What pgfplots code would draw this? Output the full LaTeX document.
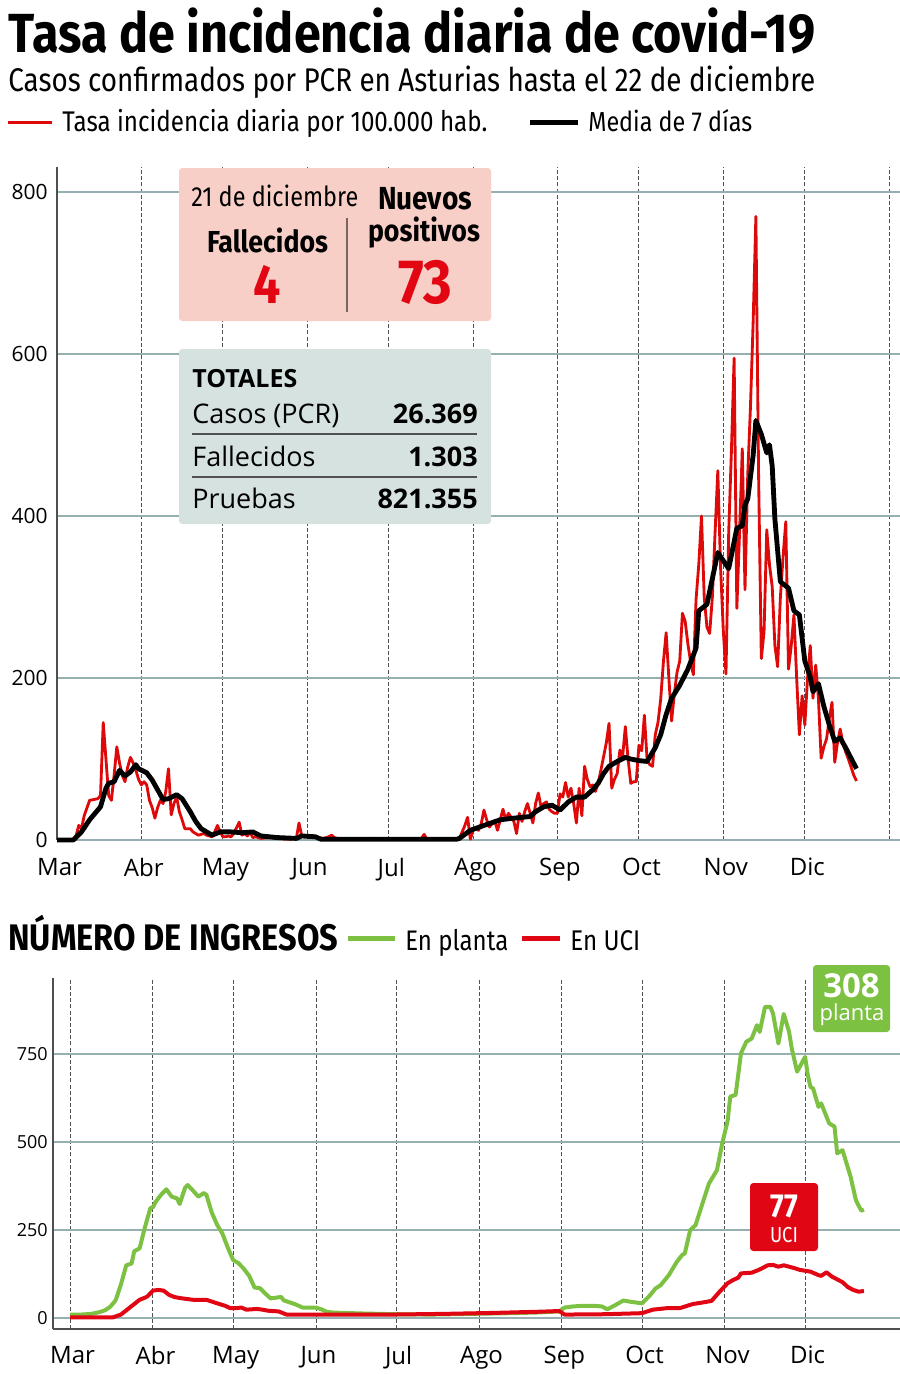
\documentclass[border=0pt]{standalone}
\usepackage{pgfplots}
\pgfplotsset{compat=1.18}
\usepackage{fontspec}
\usepackage{graphicx}
\setmainfont{Open Sans}
\newfontfamily\condR{Fira Sans}[FakeStretch=0.85]
\newfontfamily\condB{Fira Sans}[FakeStretch=0.88]
\definecolor{gridc}{RGB}{150,175,176}
\definecolor{axc}{RGB}{80,80,80}
\definecolor{redl}{RGB}{222,10,10}
\definecolor{pinkbox}{RGB}{247,207,199}
\definecolor{graybox}{RGB}{214,226,224}
\definecolor{greenl}{RGB}{124,193,66}
\definecolor{ucired}{RGB}{224,6,19}
\definecolor{numred}{RGB}{226,6,19}
\newcommand{\fitw}[2]{\resizebox{#1}{!}{#2}}
\pgfplotsset{
  common/.style={
    scale only axis, anchor=south west, clip=false,
    axis lines*=left, separate axis lines,
    major tick length=0pt,
    xmajorgrids, ymajorgrids,
    major x grid style={draw=axc, line width=0.6pt, dash pattern=on 2.4pt off 1.3pt},
    major y grid style={draw=gridc, line width=0.9pt},
    /pgf/number format/assume math mode=true,
    no markers,
  }
}
\begin{document}
\begin{tikzpicture}
\path[use as bounding box] (0,0) rectangle (540pt,-824.4pt);
% ---------------- top chart
\begin{axis}[common,
  at={(34.2pt,-504pt)}, width=505.8pt, height=403.8pt,
  xmin=0, xmax=310, ymin=0, ymax=831,
  x axis line style={draw=gridc, line width=0.9pt, -},
  y axis line style={draw=axc, line width=0.9pt, -},
  xtick={0,31,61,92,122,153,184,214,245,275,306},
  xticklabels={Mar,Abr,May,Jun,Jul,Ago,Sep,Oct,Nov,Dic,{}},
  ytick={0,200,400,600,800},
  xticklabel style={anchor=north, inner sep=0pt, yshift=-10.8pt, xshift=1.5pt, font=\fontsize{14.4}{16}\selectfont},
  yticklabel style={anchor=east, inner sep=0pt, xshift=-5.4pt, font=\fontsize{12.6}{14}\selectfont},
]
\addplot[redl, line width=1.7pt, line join=round] coordinates {
(0,0)(6,0)(7,5)(8,18)(9,14)(10,30)(12,49)(15,51)(16,55)(17,145)(18,100)(19,55)(20,49)
(21,80)(22,115)(23,95)(24,80)(25,72)(26,90)(27,102)(28,95)(29,86)(30,75)(31,68)(32,72)
(33,68)(34,49)(35,40)(36,27)(37,40)(38,49)(39,45)(40,60)(41,88)(42,31)(43,45)(44,53)
(45,35)(46,25)(47,14)(48,14)(49,14)(50,10)(51,8)(52,6)(54,8)(55,6)(56,5)(57,4)(58,10)
(59,18)(60,10)(61,4)(62,4)(63,5)(64,4)(65,8)(66,15)(67,22)(68,6)(69,8)(70,5)(71,10)
(72,3)(73,4)(75,2)(78,3)(81,2)(85,1)(88,2)(89,21)(90,5)(92,4)(94,5)(96,3)(98,2)(100,4)
(101,6)(102,3)(104,1)(110,1)(115,2)(120,1)(125,1)(130,1)(134,2)(135,7)(136,1)(140,1)
(145,1)(147,1)(148,2)(149,10)(150,18)(151,28)(152,1)(153,12)(154,14)(155,12)(156,20)
(157,37)(158,25)(159,16)(160,20)(161,23)(162,12)(163,25)(164,38)(165,25)(166,33)(167,28)
(168,23)(169,8)(170,33)(171,23)(172,35)(173,45)(174,33)(175,21)(176,45)(177,58)(178,41)
(179,45)(180,47)(181,38)(182,35)(183,33)(184,33)(185,57)(186,53)(187,71)(188,53)(189,64)
(190,45)(191,21)(192,64)(193,30)(194,91)(195,75)(196,66)(197,68)(198,60)(199,70)(200,86)
(201,103)(202,120)(203,144)(204,64)(205,75)(206,82)(207,111)(208,103)(209,140)(210,100)
(211,70)(212,72)(213,72)(214,117)(215,110)(216,154)(217,99)(218,93)(219,91)(220,130)
(221,145)(222,174)(223,220)(224,256)(225,200)(226,147)(227,180)(228,207)(229,221)(230,280)
(231,270)(232,242)(233,220)(234,204)(235,297)(236,340)(237,400)(238,300)(239,263)(240,255)
(241,300)(242,380)(243,456)(244,338)(245,260)(246,205)(247,379)(248,480)(249,595)(250,286)
(251,380)(252,483)(253,309)(254,450)(255,534)(256,640)(257,770)(258,450)(259,224)(260,257)
(261,383)(262,340)(263,313)(264,240)(265,214)(266,299)(267,350)(268,393)(269,211)(270,240)
(271,278)(272,200)(273,130)(274,178)(275,142)(276,200)(277,240)(278,175)(279,216)(280,175)
(281,101)(282,115)(283,125)(284,150)(285,170)(286,96)(287,120)(288,137)(289,120)(290,109)
(291,100)(292,90)(293,80)(294,73)
};
\addplot[black, line width=2.9pt, line join=round] coordinates {
(0,0)(6,0)(9,10)(12,25)(16,41)(18,64)(19,70)(21,72)(23,86)(25,79)(27,84)(29,93)(30,88)
(33,83)(35,74)(37,62)(39,50)(41,51)(44,56)(46,51)(49,35)(51,23)(53,14)(57,6)(60,10)
(64,10)(68,9)(72,10)(75,5)(81,3)(88,2)(90,5)(95,4)(97,1)(147,1)(148,2)(152,12)(157,18)
(163,25)(168,27)(174,29)(176,35)(179,41)(182,43)(185,37)(188,47)(191,53)(194,53)(197,62)
(199,70)(201,82)(203,91)(206,97)(209,102)(211,100)(214,98)(217,97)(220,114)(222,130)
(224,155)(226,175)(229,191)(232,211)(235,237)(236,283)(239,291)(243,355)(247,335)(250,385)
(252,388)(253,414)(254,421)(256,475)(257,518)(259,501)(261,478)(262,488)(263,462)(264,396)
(266,319)(269,311)(271,283)(273,278)(275,221)(277,201)(278,183)(280,193)(282,165)(284,142)
(286,122)(288,126)(290,114)(292,101)(294,88)
};
\end{axis}
% ---------------- bottom chart
\begin{axis}[common,
  at={(31.8pt,-797.4pt)}, width=508.2pt, height=210.6pt,
  xmin=-6.4, xmax=310.5, ymin=-31, ymax=966,
  x axis line style={draw=axc, line width=0.9pt, -},
  y axis line style={draw=axc, line width=0.9pt, -},
  xtick={0,31,61,92,122,153,184,214,245,275},
  xticklabels={Mar,Abr,May,Jun,Jul,Ago,Sep,Oct,Nov,Dic},
  ytick={0,250,500,750},
  xticklabel style={anchor=north, inner sep=0pt, yshift=-10.2pt, xshift=1.5pt, font=\fontsize{14.4}{16}\selectfont},
  yticklabel style={anchor=east, inner sep=0pt, xshift=-3pt, font=\fontsize{10.8}{12}\selectfont},
]
\addplot[greenl, line width=2.4pt, line join=round] coordinates {
(0,10)(4,10)(8,12)(11,17)(13,22)(15,32)(17,50)(19,95)(21,150)(23,155)(24,190)(26,198)
(28,258)(30,312)(31,315)(32,330)(34,350)(36,366)(38,345)(40,340)(41,324)(43,370)(44,378)
(46,362)(48,345)(50,355)(51,350)(53,300)(55,265)(57,240)(59,200)(61,165)(63,156)(65,140)
(67,120)(69,87)(71,85)(73,70)(75,56)(77,58)(79,60)(80,50)(82,45)(84,40)(87,30)(90,30)
(92,30)(94,25)(96,18)(98,16)(101,15)(110,13)(122,11)(135,10)(150,12)(165,14)(175,16)
(183,19)(185,30)(188,33)(192,35)(196,35)(199,33)(201,25)(204,37)(207,50)(210,46)(214,42)
(217,65)(219,84)(221,94)(224,122)(227,160)(229,179)(230,184)(232,250)(234,264)(237,335)
(239,382)(242,420)(244,497)(246,560)(247,629)(249,634)(251,752)(253,785)(255,794)(257,832)
(258,813)(260,884)(262,884)(263,865)(265,780)(267,864)(269,813)(270,766)(272,700)(275,742)
(276,690)(277,657)(278,652)(280,600)(281,610)(284,553)(286,544)(287,468)(289,477)(292,402)
(294,335)(296,305)(297,308)
};
\addplot[ucired, line width=2.4pt, line join=round] coordinates {
(0,2)(16,2)(19,10)(22,28)(24,40)(26,52)(28,58)(29,62)(31,78)(33,80)(35,78)(37,66)(39,60)
(41,57)(44,54)(46,52)(51,52)(53,47)(55,42)(58,35)(60,28)(62,28)(64,30)(66,24)(68,25)
(70,26)(72,24)(74,21)(78,19)(81,10)(100,10)(120,10)(140,12)(160,15)(175,18)(183,20)
(185,10)(200,11)(214,14)(218,24)(223,28)(228,28)(233,40)(238,46)(240,49)(243,75)(246,99)
(248,108)(250,115)(251,127)(253,128)(255,129)(258,138)(260,146)(261,150)(263,151)(265,146)
(267,150)(269,146)(271,142)(273,137)(277,132)(280,122)(281,120)(283,130)(285,118)(287,110)
(289,102)(291,88)(293,80)(295,75)(297,77)
};
\end{axis}
% ---------------- texts and boxes
\begin{scope}[x=0.6pt,y=-0.6pt]
\node[anchor=base west, inner sep=0pt] at (8,52) {\fitw{484.2pt}{\condB\bfseries Tasa de incidencia diaria de covid-19}};
\node[anchor=base west, inner sep=0pt] at (8,91) {\fitw{484.2pt}{\condR Casos confirmados por PCR en Asturias hasta el 22 de diciembre}};
\draw[redl, line width=1.8pt] (8,122) -- (52,122);
\node[anchor=base west, inner sep=0pt] at (62,131) {\fitw{255pt}{\condR Tasa incidencia diaria por 100.000 hab.}};
\draw[black, line width=3pt] (530,122) -- (578,122);
\node[anchor=base west, inner sep=0pt] at (588,131) {\fitw{98.4pt}{\condR Media de 7 días}};
% pink box
\fill[pinkbox, rounded corners=2pt] (179,168) rectangle (491,321);
\draw[color={rgb,255:red,120;green,100;blue,96}, line width=0.8pt] (347,218) -- (347,312);
\node[anchor=base west, inner sep=0pt] at (191,206) {\fitw{100.2pt}{\condR 21 de diciembre}};
\node[anchor=base, inner sep=0pt] at (267.5,252) {\fitw{72.6pt}{\condB\bfseries Fallecidos}};
\node[anchor=base, inner sep=0pt, text=numred] at (267,303) {\condB\bfseries\fontsize{33}{36}\selectfont 4};
\node[anchor=base, inner sep=0pt] at (425,209) {\fitw{56.4pt}{\condB\bfseries Nuevos}};
\node[anchor=base, inner sep=0pt] at (424,241) {\fitw{67.2pt}{\condB\bfseries positivos}};
\node[anchor=base, inner sep=0pt, text=numred] at (425,303) {\fitw{32.4pt}{\condB\bfseries\fontsize{33}{36}\selectfont 73}};
% gray box
\fill[graybox, rounded corners=2pt] (179,349) rectangle (491,524);
\node[anchor=base west, inner sep=0pt] at (192,387) {\fontsize{15}{18}\selectfont\bfseries TOTALES};
\node[anchor=base west, inner sep=0pt] at (192,423) {\fontsize{16.2}{19}\selectfont Casos (PCR)};
\node[anchor=base east, inner sep=0pt] at (478,423) {\fontsize{16.2}{19}\selectfont\bfseries 26.369};
\draw[axc, line width=0.9pt] (192,434) -- (477,434);
\node[anchor=base west, inner sep=0pt] at (192,466) {\fontsize{16.2}{19}\selectfont Fallecidos};
\node[anchor=base east, inner sep=0pt] at (478,466) {\fontsize{16.2}{19}\selectfont\bfseries 1.303};
\draw[axc, line width=0.9pt] (192,477) -- (477,477);
\node[anchor=base west, inner sep=0pt] at (192,508) {\fontsize{16.2}{19}\selectfont Pruebas};
\node[anchor=base east, inner sep=0pt] at (478,508) {\fontsize{16.2}{19}\selectfont\bfseries 821.355};
% bottom header
\node[anchor=base west, inner sep=0pt] at (8,950) {\fitw{198pt}{\condB\bfseries NÚMERO DE INGRESOS}};
\draw[greenl, line width=3pt] (348,938) -- (395,938);
\node[anchor=base west, inner sep=0pt] at (405,950) {\fitw{61.8pt}{\condR En planta}};
\draw[ucired, line width=3pt] (522,938) -- (560,938);
\node[anchor=base west, inner sep=0pt] at (570,950) {\fitw{42pt}{\condR En UCI}};
% green box
\fill[greenl, rounded corners=2pt] (813,965) rectangle (890,1032);
\node[anchor=base, inner sep=0pt, text=white] at (851.5,997) {\fontsize{19.8}{22}\selectfont\bfseries 308};
\node[anchor=base, inner sep=0pt, text=white] at (852,1020) {\fontsize{13.2}{15}\selectfont planta};
% red box
\fill[ucired, rounded corners=2pt] (750,1183) rectangle (818,1251);
\node[anchor=base, inner sep=0pt, text=white] at (784,1217) {\condB\bfseries\fontsize{20}{22}\selectfont 77};
\node[anchor=base, inner sep=0pt, text=white] at (784,1242) {\condR\fontsize{13}{15}\selectfont UCI};
\end{scope}
\end{tikzpicture}
\end{document}
